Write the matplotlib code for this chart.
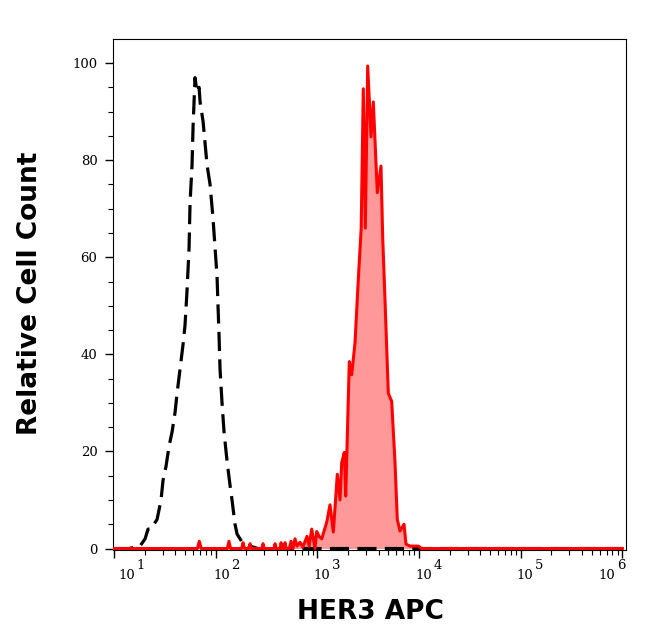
import numpy as np
import matplotlib.pyplot as plt
from matplotlib.ticker import LogLocator, MultipleLocator, NullFormatter

# isotype control (black dashed)
black_x = [10, 14, 18.0, 20.2, 21.6, 23.1, 24.7, 26.5, 29.0, 30.3, 32.5, 34.7, 37.2,
           39.8, 41.7, 44.6, 47.7, 49.9, 52.2, 54.7, 55.9, 58.5, 59.9, 62.6, 65.5,
           68.6, 70.2, 75.1, 82.2, 88.0, 94.1, 98.5, 103.1, 105.4, 107.8, 110.3,
           115.4, 120.8, 129.3, 138.4, 144.7, 154.9, 162.1, 185.7, 217.6, 260, 1e6]
black_y = [0, 0, 0.5, 2, 4, 4, 5, 6, 10, 14, 17, 21, 24,
           28, 32, 37, 42, 46, 53, 62, 71, 79, 87, 97, 94,
           95, 92, 88, 79, 75, 68, 62, 56, 50, 44, 37,
           30, 24, 18, 13, 10, 5, 3, 1, 0.5, 0, 0]

# HER3 APC stained (red filled)
red_x = [9.7, 66, 69, 72, 130, 135, 140, 180, 186, 192, 212, 218, 224, 285, 292, 300,
         375, 384, 393, 430, 440, 450, 470, 481, 492, 530, 551, 575, 603, 630, 675,
         720, 791, 830, 880, 948, 985, 1040, 1104, 1236, 1332, 1436, 1572, 1671, 1736,
         1842, 1901, 2062, 2177, 2347, 2528, 2700, 2831, 2963, 3128, 3372, 3552, 3888,
         4227, 4394, 4630, 4989, 5387, 5804, 6115, 6502, 7118, 7448, 8154, 9840,
         10630, 1e6]
red_y = [0, 0, 1.5, 0, 0, 1.5, 0, 0, 1.2, 0, 0, 1, 0, 0, 1, 0,
         0, 1, 0, 0, 1.2, 0, 0, 1.2, 0, 0, 1.5, 0, 2, 0.5, 1.3,
         0.3, 2.5, 0.5, 4, 0, 3.5, 2.5, 2, 5.4, 9, 3.4, 15.3, 10, 17.7,
         19.8, 10.8, 38.5, 35.8, 42.4, 55.4, 66, 94.7, 66, 99.4, 84.8, 92, 73.3,
         78.8, 64, 51.2, 32, 30.3, 17.8, 6, 3.6, 5, 0.9, 0.5, 0.5,
         0, 0]

x_ticks = [1e1, 1e2, 1e3, 1e4, 1e5, 1e6]
x_exps = ['1', '2', '3', '4', '5', '6']
label_dx = [21, 14, 13, 13, 13, -7]   # px, right edge of "10" from the tick

fig = plt.figure(figsize=(6.46, 6.41), dpi=100)
ax = fig.add_axes([0.1745, 0.142, 0.7945, 0.7967])

ax.fill_between(red_x, red_y, 0, color='#ff9999', lw=0, zorder=1)
ax.plot(black_x, black_y, color='black', lw=2.3, ls=(0, (6, 2.6)), zorder=2)
ax.plot(red_x, red_y, color='#ff0000', lw=2.2, zorder=3)

ax.set_xscale('log')
ax.set_xlim(10**0.987, 10**6.036)
ax.set_ylim(-0.3, 104.9)
ax.set_xticks(x_ticks)
ax.xaxis.set_minor_locator(LogLocator(base=10, subs=np.arange(2, 10), numticks=20))
ax.xaxis.set_major_formatter(NullFormatter())
ax.xaxis.set_minor_formatter(NullFormatter())
ax.yaxis.set_major_locator(MultipleLocator(20))
ax.yaxis.set_minor_locator(MultipleLocator(5))
ax.tick_params(which='major', length=6, width=1, direction='out', top=False, right=False)
ax.tick_params(which='minor', length=3.5, width=0.8, direction='out', top=False, right=False)
ax.tick_params(axis='y', labelsize=9.5, pad=5)
for lab in ax.get_yticklabels():
    lab.set_fontfamily('DejaVu Serif')

# "10" with a raised exponent of the same size
trans = ax.get_xaxis_transform()
for t, e, dx in zip(x_ticks, x_exps, label_dx):
    ax.annotate('10', xy=(t, 0), xycoords=trans, xytext=(dx, -26),
                textcoords='offset pixels', ha='right', va='center',
                fontsize=9.5, family='DejaVu Serif', annotation_clip=False)
    ax.annotate(e, xy=(t, 0), xycoords=trans, xytext=(dx + 1.5, -16),
                textcoords='offset pixels', ha='left', va='center',
                fontsize=9.5, family='DejaVu Serif', annotation_clip=False)

fig.text(370.8 / 646, 1 - 619.3 / 641, 'HER3 APC', fontsize=19, fontweight='bold',
         family='DejaVu Sans', ha='center', va='baseline')
fig.text(30.5 / 646, 1 - 293.3 / 641, 'Relative Cell Count', fontsize=19,
         fontweight='bold', family='DejaVu Sans', rotation=90, ha='center', va='center')

fig.savefig('out.png', dpi=100)
